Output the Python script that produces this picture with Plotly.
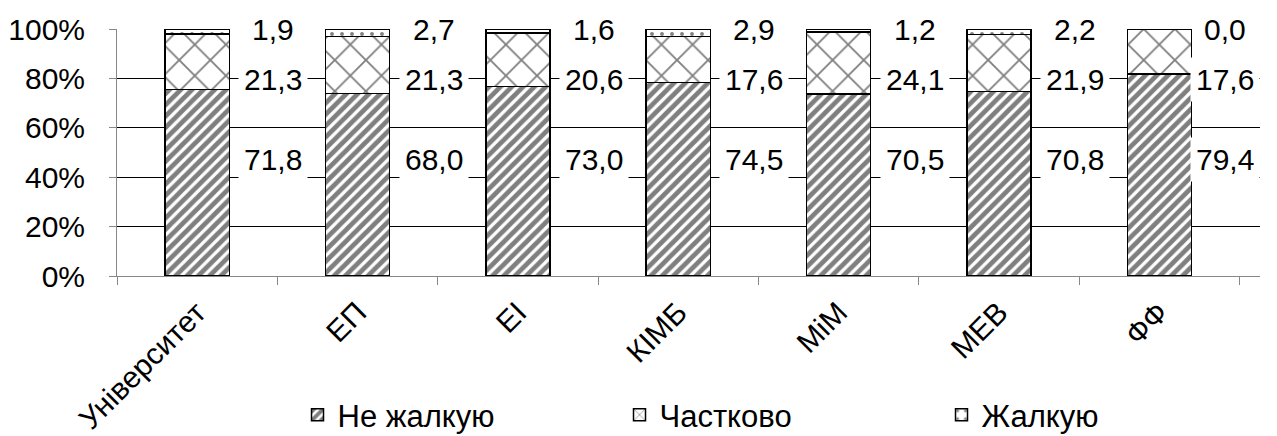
import plotly.graph_objects as go

categories = ["Університет", "ЕП", "ЕІ", "КІМБ", "МіМ", "МЕВ", "ФФ"]
ne_zhalkuyu = [71.8, 68.0, 73.0, 74.5, 70.5, 70.8, 79.4]
chastkovo = [21.3, 21.3, 20.6, 17.6, 24.1, 21.9, 17.6]
zhalkuyu = [1.9, 2.7, 1.6, 2.9, 1.2, 2.2, 0.0]
series_names = ["Не жалкую", "Частково", "Жалкую"]
y_ticks = [0, 20, 40, 60, 80, 100]

W, H = 1277, 436
ML, MR, MT, MB = 117, 17, 29, 160
FONT = "Liberation Sans, Arial, sans-serif"
FS = 30

fig = go.Figure()
patterns = [
    dict(shape="/", fgcolor="black", bgcolor="white", size=8, solidity=0.6),
    dict(shape="x", fgcolor="black", bgcolor="white", size=22, solidity=0.16),
    dict(shape=".", fgcolor="black", bgcolor="white", size=10, solidity=0.12),
]
all_series = [ne_zhalkuyu, chastkovo, zhalkuyu]
for name, vals, pat in zip(series_names, all_series, patterns):
    fig.add_trace(go.Bar(
        x=categories, y=vals, name=name,
        marker=dict(color="white", line=dict(color="black", width=1.5), pattern=pat),
    ))

# label levels (percent of axis) for each series
label_levels = [47, 79.5, 99.6]
plot_w = W - ML - MR
n = len(categories)
for si, vals in enumerate(all_series):
    for i, (c, v) in enumerate(zip(categories, vals)):
        center_px = ML + plot_w * (i + 0.5) / n
        shift = min(76, (W - 33) - center_px)
        fig.add_annotation(
            x=c, y=label_levels[si], xref="x", yref="y",
            text=f"{v:.1f}".replace(".", ","), showarrow=False,
            xanchor="center", yanchor="middle", xshift=shift,
            bgcolor="white", borderpad=5,
            font=dict(family=FONT, size=FS, color="black"),
        )

fig.update_layout(
    width=W, height=H,
    barmode="stack", barnorm="percent", bargap=0.6,
    margin=dict(l=ML, r=MR, t=MT, b=MB, autoexpand=False),
    paper_bgcolor="white", plot_bgcolor="white",
    font=dict(family=FONT, size=FS, color="black"),
    legend=dict(
        orientation="h", x=0.5805, xanchor="center", y=-0.563, yanchor="middle",
        font=dict(family=FONT, size=31), entrywidth=277, entrywidthmode="pixels",
        itemwidth=30, traceorder="normal",
    ),
    showlegend=True,
)
fig.update_yaxes(
    range=[0, 100], tickvals=y_ticks, ticktext=[f"{t}%" for t in y_ticks],
    showgrid=True, gridcolor="black", gridwidth=1, zeroline=False,
    showline=True, linecolor="#888", linewidth=1,
    ticks="outside", ticklen=7, tickcolor="#888", automargin=False,
    tickfont=dict(family=FONT, size=FS), ticklabelstandoff=18,
)
fig.update_xaxes(
    showline=True, linecolor="#888", linewidth=1,
    ticks="outside", ticklen=8, tickcolor="#888", tickson="boundaries",
    tickangle=-45, tickfont=dict(family=FONT, size=FS), automargin=False,
    ticklabelstandoff=6,
)

fig.write_html(
    "out.html",
    config={"displayModeBar": False},
    post_script="document.body.style.margin='0';document.body.style.overflow='hidden';",
)
